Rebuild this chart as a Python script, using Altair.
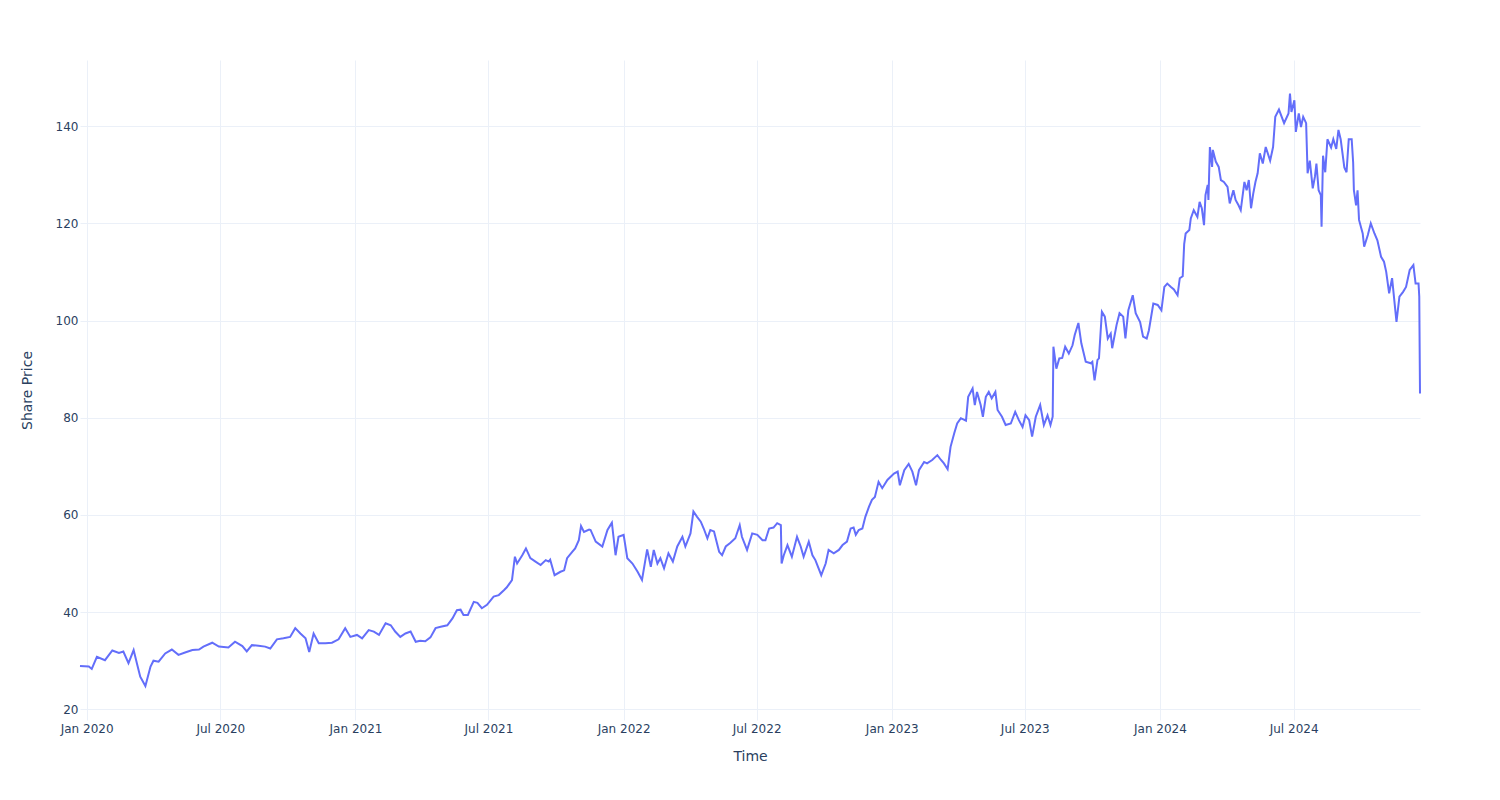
import altair as alt
import pandas as pd

days = [
    -9, 3, 7, 14, 25, 35, 44, 50, 57, 64, 69, 73, 80, 87, 91, 98, 107, 116, 125, 134,
    144, 153, 159, 171, 180, 193, 202, 212, 218, 225,
    234, 243, 250, 259, 268, 277, 284, 291, 298, 303, 309, 316, 325, 334, 343, 352,
    359, 368, 375, 384, 391, 398, 407, 414, 420, 427, 434, 441, 448, 454, 461,
    468, 475, 482, 491, 498, 504, 509, 513, 519, 527, 532, 538, 545, 554, 561, 568,
    572, 579, 583, 586, 593, 598, 604, 611, 618, 625, 629, 631, 637, 645, 650, 654,
    661, 665, 670, 673, 677, 684,
    686, 693, 702, 709, 713, 715, 720, 724, 731, 736, 743, 750, 756, 763, 768, 772,
    777, 781, 786, 792, 798, 804, 811, 815, 822, 826, 831, 836, 840, 845, 849, 854,
    861, 865, 870, 876, 883, 889, 892, 899, 906, 913, 920,
    924, 929, 935, 940, 945, 946, 949, 954, 960, 967, 972, 976, 983, 988, 992, 1000,
    1006, 1010, 1017, 1024, 1029, 1035, 1040, 1044, 1047, 1051, 1056, 1060, 1065,
    1069, 1073, 1078, 1083, 1090, 1099, 1104, 1107, 1113, 1119, 1124, 1129, 1133,
    1140, 1144,
    1151, 1158, 1163, 1167, 1172, 1176, 1181, 1185, 1190, 1197, 1200, 1206, 1209,
    1212, 1217, 1220, 1224, 1228, 1232, 1237, 1240, 1246, 1251, 1258, 1264, 1269,
    1274, 1278, 1283, 1287, 1292, 1298, 1303, 1308, 1312, 1315, 1316, 1320, 1324,
    1328, 1332, 1337, 1342, 1345, 1350, 1354, 1360, 1367, 1369, 1372, 1376, 1378,
    1382, 1386, 1390, 1394, 1396, 1402, 1406, 1411, 1414, 1418, 1424, 1428, 1434,
    1438, 1443, 1446, 1452, 1458, 1463, 1467, 1471, 1476, 1480, 1485, 1488, 1492,
    1494, 1496, 1501, 1503, 1507, 1512, 1515, 1518, 1521, 1523, 1526, 1527, 1529,
    1532, 1533, 1537, 1541, 1544, 1548, 1553, 1556, 1561, 1564, 1568, 1571, 1576,
    1579, 1582, 1585, 1588, 1591, 1594, 1597, 1601,
    1605, 1611, 1615, 1618, 1623, 1630, 1636, 1638, 1640, 1644, 1646, 1650, 1653,
    1656, 1660, 1662, 1665, 1669, 1672, 1674, 1677, 1680, 1681, 1683, 1686, 1689,
    1694, 1697, 1701, 1704, 1707, 1712, 1715, 1718, 1722, 1724, 1725, 1728, 1730,
    1732, 1737, 1739, 1744, 1748, 1753, 1757, 1762, 1766, 1769, 1773, 1777, 1780,
    1783, 1787, 1792, 1796, 1801, 1806, 1809, 1813, 1814, 1815,
]

price = [
    28.9, 28.8, 28.3, 30.8, 30.1, 32.1, 31.6, 31.9, 29.5, 32.2, 29.1, 26.7, 24.8, 28.8,
    30.0, 29.8, 31.5, 32.3, 31.2, 31.7, 32.2, 32.3, 32.9, 33.7, 32.9, 32.7, 33.9, 33.0,
    31.9, 33.2,
    33.1, 32.9, 32.5, 34.4, 34.6, 34.9, 36.7, 35.6, 34.6, 31.8, 35.6, 33.6, 33.6, 33.7,
    34.4, 36.7, 34.9, 35.3, 34.6, 36.3, 36.0, 35.3, 37.7, 37.3, 36.0, 34.9, 35.6, 36.0,
    33.9, 34.1, 34.0,
    34.8, 36.7, 37.0, 37.3, 38.7, 40.4, 40.5, 39.4, 39.4, 42.1, 41.9, 40.8, 41.5, 43.2,
    43.5, 44.5, 45.1, 46.6, 51.4, 50.0, 51.7, 53.1, 51.1, 50.4, 49.7, 50.7, 50.4, 50.8,
    47.6, 48.3, 48.6, 51.1, 52.4, 53.1, 54.8, 57.7, 56.5, 57.0,
    56.9, 54.5, 53.5, 56.9, 57.9, 58.4, 51.7, 55.5, 55.9, 51.1, 50.0, 48.3, 46.6, 52.9,
    49.3, 52.8, 50.0, 51.1, 49.0, 52.1, 50.4, 53.5, 55.5, 53.5, 56.2, 60.7, 59.6, 58.6,
    57.2, 55.2, 56.9, 56.6, 52.4, 51.7, 53.5, 54.2, 55.2, 57.9, 55.5, 52.8, 56.2, 55.9,
    54.8,
    54.8, 57.2, 57.4, 58.3, 57.9, 50.0, 51.7, 53.8, 51.4, 55.5, 53.5, 51.4, 54.5, 51.7,
    50.7, 47.6, 50.0, 52.8, 52.1, 52.8, 53.8, 54.5, 57.2, 57.4, 55.9, 56.9, 57.2, 59.6,
    61.7, 63.1, 63.7, 66.8, 65.5, 67.2, 68.5, 68.9, 66.1, 69.2, 70.5, 68.9, 66.1, 69.2,
    70.9, 70.6,
    71.3, 72.3, 71.3, 70.6, 69.4, 74.0, 76.8, 78.8, 79.9, 79.4, 84.3, 86.0, 82.6, 85.3,
    82.6, 80.2, 84.3, 85.3, 84.0, 85.3, 81.6, 80.2, 78.5, 78.8, 81.2, 79.5, 78.1, 80.5,
    79.5, 76.1, 80.2, 82.6, 78.5, 80.5, 78.5, 80.2, 94.6, 90.1, 92.2, 92.3, 94.6, 93.2,
    94.9, 97.0, 99.5, 95.3, 91.5, 91.2, 91.5, 87.7, 91.9, 92.2,
    101.8, 100.8, 96.3, 97.3, 94.3, 99.1, 101.5, 100.8, 96.3, 102.1, 105.2, 101.5, 99.7,
    96.7, 96.3, 98.0, 103.5, 103.2, 102.1, 106.9, 107.6, 106.9, 106.4, 105.2, 108.7,
    109.1, 115.7, 117.9, 118.6, 121.0, 122.7, 121.3, 124.4, 123.1, 119.6, 125.8, 127.9,
    124.8, 135.7, 131.6, 135.1, 132.7, 131.6, 128.9, 128.5, 127.5, 124.1, 126.8, 124.8,
    123.7, 122.7, 128.5, 126.8, 128.9, 123.1, 126.1, 128.5, 130.3, 134.4, 132.3,
    135.7, 132.9, 135.7, 141.9, 143.4, 140.6, 142.6, 146.7, 142.9, 145.3, 138.8, 142.6,
    139.8, 141.9, 140.6, 130.3, 132.9, 127.2, 129.6, 132.3, 126.8, 125.8, 119.3, 133.9,
    130.5, 137.3, 135.6, 137.3, 135.3, 139.2, 137.3, 131.5, 130.5, 137.3, 137.3, 132.5,
    126.8, 123.7, 126.8, 120.7, 117.9, 115.2, 117.6, 120.0, 117.9, 116.5, 113.1, 112.1,
    110.0, 105.6, 108.7, 104.2, 99.7, 104.9, 105.9, 106.9, 110.4, 111.4, 107.6, 107.6,
    104.9, 85.0,
]

y_ticks = [20, 40, 60, 80, 100, 120, 140]
x_tick_months = [(2020, 1), (2020, 7), (2021, 1), (2021, 7), (2022, 1), (2022, 7),
                 (2023, 1), (2023, 7), (2024, 1), (2024, 7)]

df = pd.DataFrame({
    "date": pd.Timestamp("2020-01-01") + pd.to_timedelta(days, unit="D"),
    "price": price,
})

FONT = "DejaVu Sans"
TXT = "#2a3f5f"
GRID = "#EBF0F8"

chart = alt.Chart(df).mark_line(color="#636efa", strokeWidth=2).encode(
    x=alt.X(
        "date:T",
        title="Time",
        scale=alt.Scale(
            domain=[alt.DateTime(year=2019, month=12, date=23),
                    alt.DateTime(year=2024, month=12, date=20)],
            nice=False,
        ),
        axis=alt.Axis(
            values=[alt.DateTime(year=y, month=m, date=1) for y, m in x_tick_months],
            format="%b %Y",
            labelFont=FONT, labelFontSize=12, labelColor=TXT,
            labelPadding=3, labelFlush=False, labelOverlap=False,
            gridColor=GRID, gridWidth=1,
            domain=False, ticks=False, tickSize=0,
            titleFont=FONT, titleFontSize=14, titleColor=TXT,
            titleFontWeight="normal", titleX=670, titleY=36,
            titleBaseline="middle", titleAlign="center",
        ),
    ),
    y=alt.Y(
        "price:Q",
        title="Share Price",
        scale=alt.Scale(domain=[17.8, 153.6], nice=False, zero=False),
        axis=alt.Axis(
            values=y_ticks,
            labelFont=FONT, labelFontSize=12, labelColor=TXT,
            labelPadding=2, labelFlush=False,
            gridColor=GRID, gridWidth=1,
            domain=False, ticks=False, tickSize=0,
            titleFont=FONT, titleFontSize=14, titleColor=TXT,
            titleFontWeight="normal", titleX=-53, titleY=330,
            titleBaseline="middle", titleAlign="center",
        ),
    ),
).properties(
    width=1340,
    height=660,
    padding={"left": 80, "right": 80, "top": 60, "bottom": 80},
    autosize=alt.AutoSizeParams(type="none"),
    background="white",
).configure_view(stroke="transparent")

chart.save("out.html", embed_options={"renderer": "svg", "actions": False})
